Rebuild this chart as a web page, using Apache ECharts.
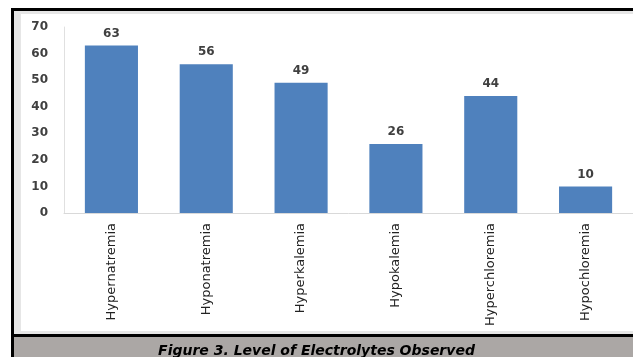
<!DOCTYPE html>
<html>
<head>
<meta charset="utf-8">
<script src="https://cdn.jsdelivr.net/npm/echarts@6/dist/echarts.min.js"></script>
<style>
  html, body { margin: 0; padding: 0; background: #fff; overflow: hidden; }
  .box { position: absolute; }
  #frame { left: 11px; top: 8px; width: 700px; height: 400px; background: #e6e6e6;
           border-left: 3px solid #000; border-top: 3px solid #000; }
  #plotBg { left: 21px; top: 14px; width: 700px; height: 317px; background: #fff; }
  #sep { left: 11px; top: 334px; width: 700px; height: 3px; background: #000; }
  #capBand { left: 14px; top: 337px; width: 700px; height: 30px; background: #aba7a5; }
  #main { position: absolute; left: 0; top: 0; width: 633px; height: 357px; }
</style>
</head>
<body>
<div class="box" id="frame"></div>
<div class="box" id="plotBg"></div>
<div class="box" id="sep"></div>
<div class="box" id="capBand"></div>
<div id="main"></div>
<script>
// categories and values
var categories = ['Hypernatremia', 'Hyponatremia', 'Hyperkalemia', 'Hypokalemia', 'Hyperchloremia', 'Hypochloremia'];
var counts = [63, 56, 49, 26, 44, 10];
var yTicks = [0, 10, 20, 30, 40, 50, 60, 70];
var caption = 'Figure 3. Level of Electrolytes Observed';

var myChart = echarts.init(document.getElementById('main'));

var option = {
  backgroundColor: 'transparent',
  animation: false,
  title: {
    text: caption,
    left: 'center',
    top: 339,
    textStyle: {
      fontFamily: 'DejaVu Sans',
      fontStyle: 'italic',
      fontWeight: 'bold',
      fontSize: 14,
      color: '#000'
    }
  },
  grid: {
    left: 64,
    top: 27,
    width: 569,
    height: 186,
    containLabel: false
  },
  xAxis: {
    type: 'category',
    data: categories,
    axisLine: { lineStyle: { color: '#d9d9d9', width: 1 } },
    axisTick: { show: false },
    axisLabel: {
      rotate: 90,
      interval: 0,
      margin: 10,
      fontFamily: 'DejaVu Sans',
      fontSize: 13,
      color: '#222'
    }
  },
  yAxis: {
    type: 'value',
    min: yTicks[0],
    max: yTicks[yTicks.length - 1],
    interval: 10,
    axisLine: { show: true, lineStyle: { color: '#e0e0e0' } },
    axisTick: { show: false },
    splitLine: { show: false },
    axisLabel: {
      margin: 16,
      fontFamily: 'DejaVu Sans',
      fontWeight: 'bold',
      fontSize: 12,
      color: '#404040'
    }
  },
  series: [{
    type: 'bar',
    data: counts,
    barCategoryGap: '44%',
    itemStyle: { color: '#4f81bd' },
    label: {
      show: true,
      position: 'top',
      distance: 6,
      fontFamily: 'DejaVu Sans',
      fontWeight: 'bold',
      fontSize: 12,
      color: '#404040'
    }
  }]
};

myChart.setOption(option);
</script>
</body>
</html>
